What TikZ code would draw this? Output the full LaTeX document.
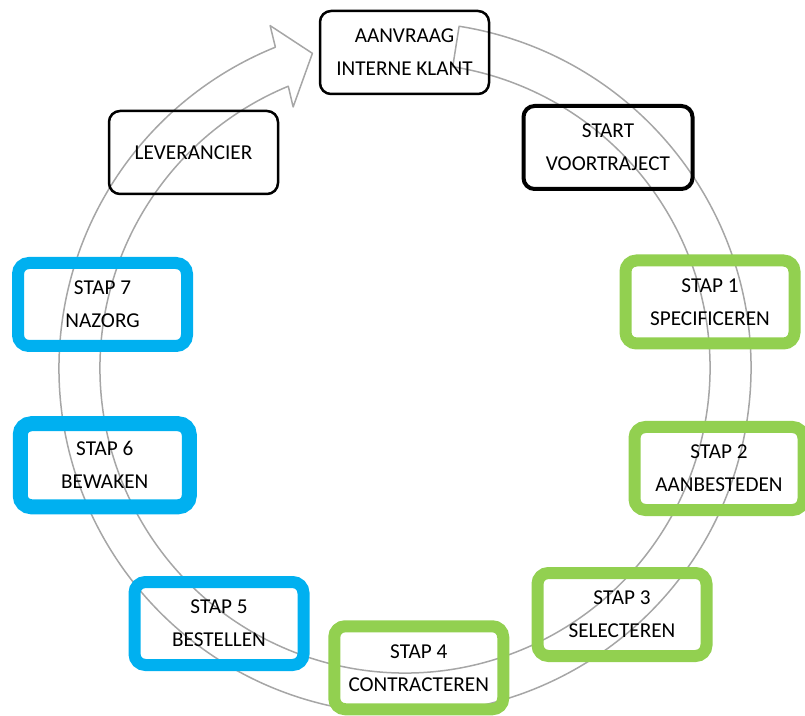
\documentclass[tikz,border=0pt]{standalone}
\usepackage{fontspec}
\setmainfont{Carlito}
\definecolor{stapblauw}{RGB}{0,176,240}
\definecolor{stapgroen}{RGB}{146,208,80}
\definecolor{pijlgrijs}{RGB}{166,166,166}
\tikzset{
  fase/.style    = {draw, rounded corners=11pt, inner sep=0pt,
                    minimum width=169pt, minimum height=83pt, align=center,
                    font=\fontsize{21.2}{33}\selectfont},
  extern/.style  = {fase, line width=2.5pt},
  voor/.style    = {fase, line width=4pt},
  groen/.style   = {fase, draw=stapgroen, line width=12pt},
  blauw/.style   = {fase, draw=stapblauw, line width=12pt},
  cirkel/.style  = {draw=pijlgrijs, line width=1.5pt, line join=round}
}

\begin{document}
\begin{tikzpicture}[x=1pt,y=1pt]
  \useasboundingbox (0,0) rectangle (805,715);
  % circular arrow
  \draw[cirkel, shift={(405,347)}]
    (441:346) arc[start angle=441, end angle=112, radius=346]
    -- (111.5:368) -- (106.4:328) -- (113.2:284) -- (112.5:305)
    arc[start angle=112.5, end angle=441, radius=305] -- cycle;
  % phases
  \node[extern] (aanvraag) at (404.5,662.5) {AANVRAAG\\INTERNE KLANT};
  \node[voor] (start) at (608,567.5) {START\\VOORTRAJECT};
  \node[extern] (leverancier) at (193.5,562.5) {LEVERANCIER};
  \node[groen] (stap1) at (710,413) {STAP 1\\SPECIFICEREN};
  \node[groen] (stap2) at (719,246.5) {STAP 2\\AANBESTEDEN};
  \node[groen] (stap3) at (622,100.5) {STAP 3\\SELECTEREN};
  \node[groen] (stap4) at (418.75,47.25) {STAP 4\\CONTRACTEREN};
  \node[blauw] (stap5) at (219,91.5) {STAP 5\\BESTELLEN};
  \node[blauw, line width=15pt] (stap6) at (104.75,249.75) {STAP 6\\BEWAKEN};
  \node[blauw] (stap7) at (102.5,410.5) {STAP 7\\NAZORG};
\end{tikzpicture}
\end{document}
